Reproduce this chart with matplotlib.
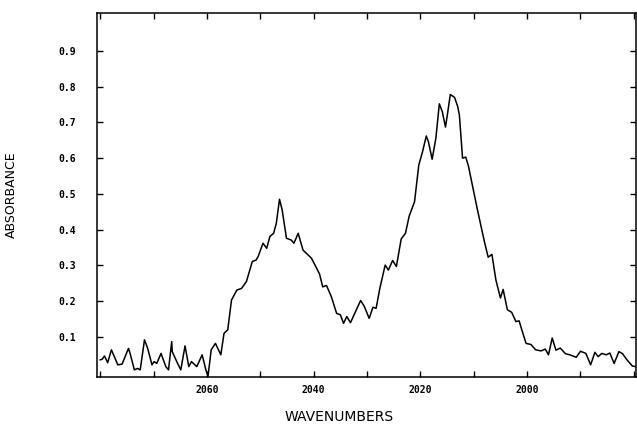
import matplotlib
matplotlib.use("Agg")
import matplotlib.pyplot as plt
from matplotlib.ticker import MultipleLocator

# IR spectrum (wavenumber, absorbance)
wavenumber = [
    2080.0, 2079.6, 2079.2, 2078.6, 2077.9, 2077.5, 2076.7, 2075.9, 2074.7, 2074.4,
    2073.6, 2073.0, 2072.5, 2071.7, 2071.1, 2070.3, 2069.9, 2069.4, 2068.6, 2067.7,
    2067.2, 2066.6, 2066.5, 2065.5, 2064.9, 2064.1, 2063.4, 2062.9, 2061.9, 2060.9,
    2060.2, 2059.8, 2059.2, 2058.4, 2057.4, 2056.8, 2056.1, 2055.4, 2054.4, 2053.5,
    2052.6, 2051.5, 2050.8, 2050.4, 2049.5, 2048.8, 2048.2, 2047.5, 2047.0, 2046.4,
    2045.9, 2045.1, 2044.2, 2043.7, 2042.9, 2042.0, 2040.4, 2038.9, 2038.3, 2037.6,
    2036.7, 2035.7, 2035.0, 2034.4, 2033.8, 2033.1, 2032.0, 2031.2, 2030.5, 2029.6,
    2028.9, 2028.3, 2027.6, 2026.6, 2026.0, 2025.2, 2024.5, 2023.6, 2022.8, 2022.1,
    2021.1, 2020.3, 2019.6, 2018.9, 2018.5, 2017.8, 2017.1, 2016.45, 2015.9, 2015.3,
    2014.9, 2014.4, 2013.6, 2013.0, 2012.7, 2012.1, 2011.5, 2011.0, 2010.2, 2009.3,
    2008.0, 2007.3, 2006.6, 2005.85, 2005.0, 2004.5, 2003.7, 2002.9, 2002.1, 2001.5,
    2001.0, 2000.2, 1999.3, 1998.4, 1997.4, 1996.6, 1996.0, 1995.3, 1994.6, 1993.8,
    1992.8, 1992.0, 1990.8, 1990.0, 1989.0, 1988.1, 1987.3, 1986.7, 1986.0, 1985.2,
    1984.5, 1983.7, 1982.8, 1982.1, 1981.3, 1980.3, 1979.7,
]
absorbance = [
    0.036, 0.038, 0.047, 0.028, 0.064, 0.050, 0.022, 0.024, 0.068, 0.054,
    0.008, 0.012, 0.008, 0.092, 0.068, 0.022, 0.031, 0.026, 0.054, 0.017,
    0.008, 0.087, 0.059, 0.026, 0.008, 0.075, 0.017, 0.031, 0.017, 0.050,
    0.008, -0.010, 0.064, 0.082, 0.050, 0.110, 0.120, 0.203, 0.231, 0.236,
    0.255, 0.311, 0.315, 0.325, 0.362, 0.348, 0.381, 0.390, 0.418, 0.485,
    0.455, 0.376, 0.371, 0.362, 0.390, 0.343, 0.320, 0.276, 0.240, 0.244,
    0.213, 0.166, 0.162, 0.138, 0.157, 0.140, 0.176, 0.202, 0.185, 0.152,
    0.183, 0.180, 0.236, 0.301, 0.287, 0.314, 0.297, 0.374, 0.390, 0.438,
    0.478, 0.581, 0.618, 0.662, 0.646, 0.597, 0.656, 0.752, 0.730, 0.687,
    0.726, 0.778, 0.770, 0.744, 0.721, 0.600, 0.603, 0.578, 0.520, 0.455,
    0.366, 0.323, 0.331, 0.259, 0.209, 0.233, 0.176, 0.169, 0.143, 0.145,
    0.120, 0.082, 0.079, 0.064, 0.061, 0.066, 0.050, 0.097, 0.063, 0.069,
    0.053, 0.050, 0.043, 0.060, 0.054, 0.022, 0.057, 0.045, 0.054, 0.050,
    0.055, 0.026, 0.059, 0.053, 0.036, 0.019, 0.017,
]

x_ticks = [2060, 2040, 2020, 2000]
y_ticks = [0.1, 0.2, 0.3, 0.4, 0.5, 0.6, 0.7, 0.8, 0.9]

fig = plt.figure(figsize=(6.37, 4.24), dpi=100)
ax = fig.add_axes([97 / 637, 47 / 424, 539 / 637, 364 / 424])

ax.plot(wavenumber, absorbance, color="black", linewidth=1.1)

ax.set_xlim(2080.6, 1979.6)
ax.set_ylim(-0.012, 1.006)

ax.set_xticks(x_ticks)
ax.set_xticklabels([str(t) for t in x_ticks])
ax.xaxis.set_minor_locator(MultipleLocator(10))
ax.set_yticks(y_ticks)
ax.set_yticklabels(["%.1f" % t for t in y_ticks])

ax.tick_params(which="both", direction="in", top=True, right=True,
               length=4, width=1, color="black")
ax.tick_params(axis="y", pad=15, labelsize=7)
ax.tick_params(axis="x", pad=6, labelsize=7)
for lab in ax.get_xticklabels() + ax.get_yticklabels():
    lab.set_family("DejaVu Sans Mono")
    lab.set_weight("bold")

for s in ax.spines.values():
    s.set_linewidth(1.1)

ax.set_xlabel("WAVENUMBERS", fontsize=10)
ax.set_ylabel("ABSORBANCE", fontsize=9)
ax.xaxis.set_label_coords(0.45, -0.092)
ax.yaxis.set_label_coords(-0.147, 0.5)

fig.savefig("out.png", dpi=100)
